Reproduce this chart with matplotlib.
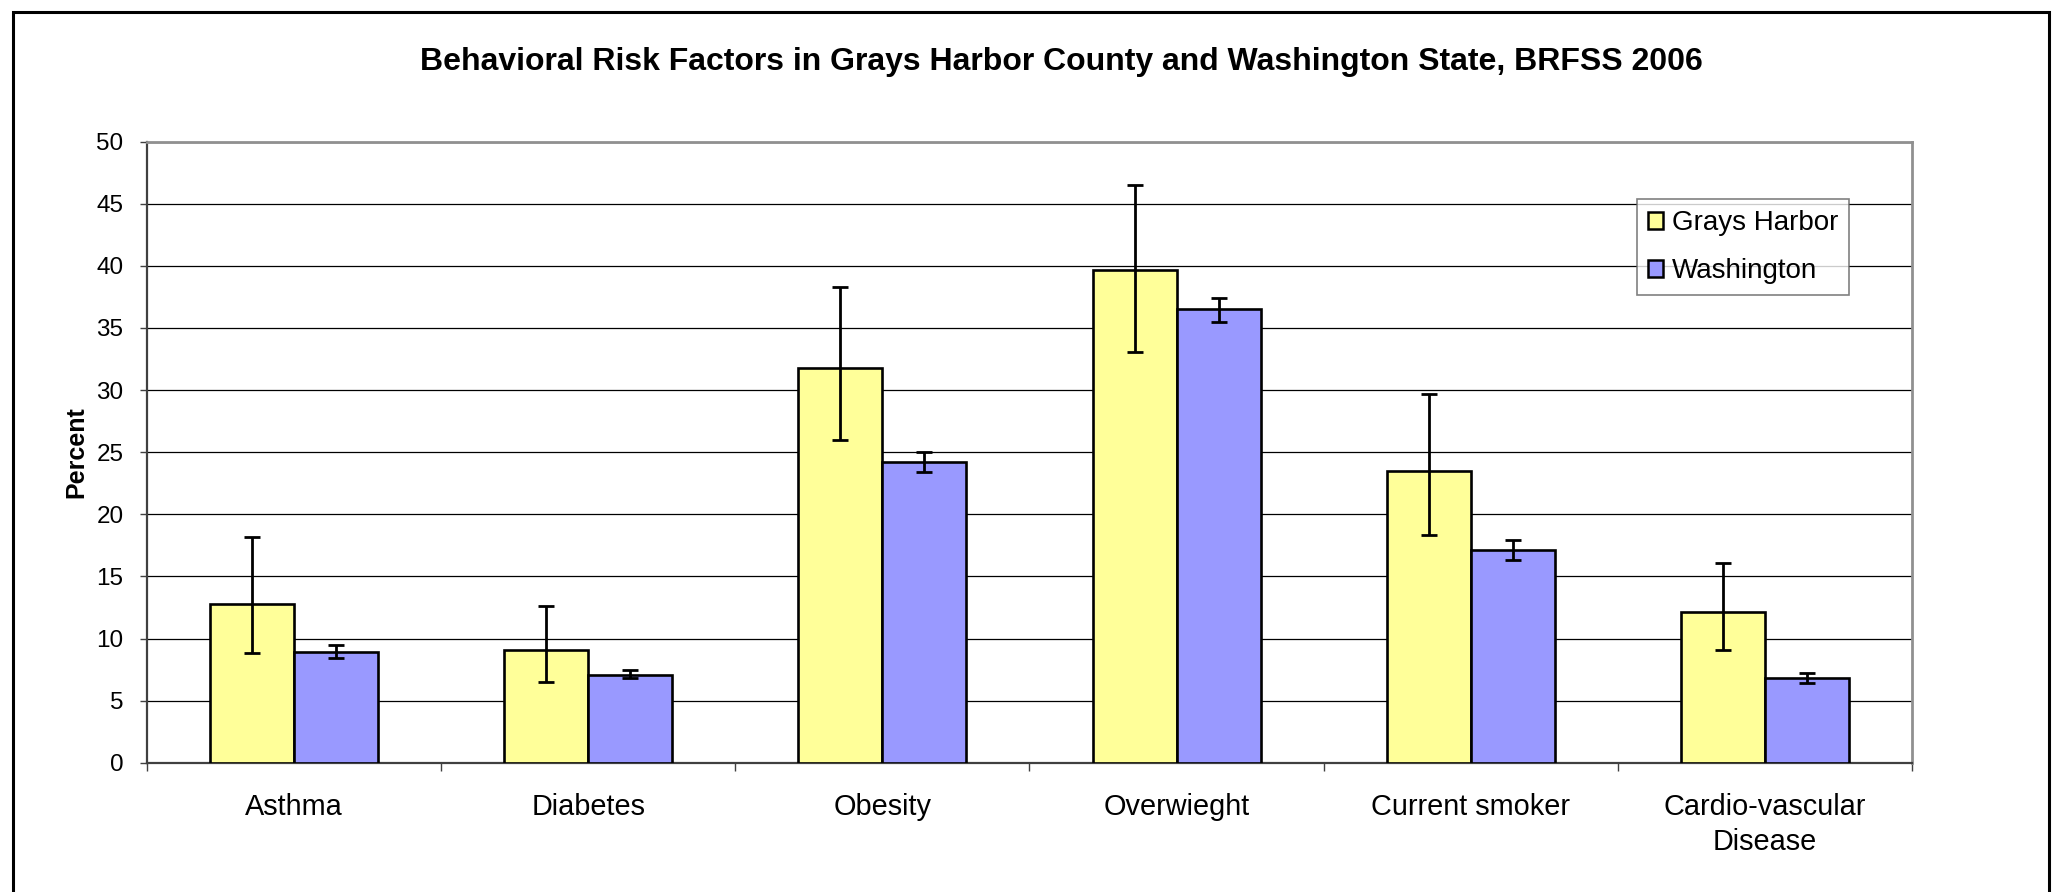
import matplotlib
matplotlib.use("Agg")
import matplotlib.pyplot as plt
from matplotlib.patches import Rectangle, Patch
import numpy as np

categories = ["Asthma", "Diabetes", "Obesity", "Overwieght", "Current smoker", "Cardio-vascular\nDisease"]
series_names = ["Grays Harbor", "Washington"]
gh_values = [12.8, 9.1, 31.8, 39.7, 23.5, 12.1]
gh_lower = [8.8, 6.5, 26.0, 33.1, 18.3, 9.05]
gh_upper = [18.2, 12.6, 38.3, 46.5, 29.7, 16.1]
wa_values = [8.9, 7.1, 24.2, 36.5, 17.1, 6.8]
wa_lower = [8.4, 6.8, 23.4, 35.5, 16.3, 6.4]
wa_upper = [9.5, 7.5, 25.0, 37.4, 17.9, 7.2]
y_ticks = [0, 5, 10, 15, 20, 25, 30, 35, 40, 45, 50]

plt.rcParams['font.family'] = ['Liberation Sans', 'DejaVu Sans']

W, H = 2056, 892
fig = plt.figure(figsize=(W / 100, H / 100), dpi=100)
ax = fig.add_axes([147 / W, 1 - 762.7 / H, (1912 - 147) / W, (762.7 - 141.7) / H])

n = len(categories)
x = np.arange(n)
bw = 1 / 3.5
colors = ["#FFFF99", "#9999FF"]

for vals, lo, hi, off, col, name in [
    (gh_values, gh_lower, gh_upper, -bw / 2, colors[0], series_names[0]),
    (wa_values, wa_lower, wa_upper, bw / 2, colors[1], series_names[1]),
]:
    vals = np.array(vals); lo = np.array(lo); hi = np.array(hi)
    ax.bar(x + off, vals, width=bw, color=col, edgecolor="black", linewidth=1.9, zorder=3, label=name)
    ax.errorbar(x + off, vals, yerr=[vals - lo, hi - vals], fmt="none", ecolor="black",
                elinewidth=2.0, capsize=5.5, capthick=2.0, zorder=4)

ax.set_xlim(-0.5, n - 0.5)
ax.set_ylim(0, 50)
ax.set_yticks(y_ticks)
ax.set_yticklabels([str(v) for v in y_ticks], fontsize=17.5)
ax.tick_params(axis="y", direction="out", length=5, width=1, color="#404040", pad=12)
ax.yaxis.grid(True, color="black", linewidth=0.9, zorder=0)
ax.set_axisbelow(True)

ax.set_xticks(np.arange(n + 1) - 0.5)
ax.set_xticklabels([])
ax.set_xticks(x, minor=True)
ax.set_xticklabels(categories, minor=True, fontsize=20.8, linespacing=1.3)
ax.tick_params(axis="x", which="major", direction="out", length=6, width=1, color="#404040")
ax.tick_params(axis="x", which="minor", length=0, pad=22)

for s in ["left", "bottom"]:
    ax.spines[s].set_color("#404040")
    ax.spines[s].set_linewidth(1.6)
for s in ["top", "right"]:
    ax.spines[s].set_color("#909090")
    ax.spines[s].set_linewidth(2.0)

ax.set_ylabel("Percent", fontsize=18, fontweight="bold", labelpad=6)

fig.text(1061 / W, 1 - 62 / H, "Behavioral Risk Factors in Grays Harbor County and Washington State, BRFSS 2006",
         ha="center", va="center", fontsize=23, fontweight="bold")

handles = [Patch(facecolor=colors[0], edgecolor="black", linewidth=1.8),
           Patch(facecolor=colors[1], edgecolor="black", linewidth=1.8)]
leg = fig.legend(handles, series_names, loc="upper left", bbox_to_anchor=(1637 / W, 1 - 199 / H),
                 fontsize=20, frameon=True, fancybox=False, edgecolor="#606060",
                 handlelength=0.55, handleheight=0.55, handletextpad=0.3, labelspacing=0.8,
                 borderpad=0.4, borderaxespad=0)
leg.get_frame().set_linewidth(1.2)

fig.patches.append(Rectangle((13 / W, -0.1), (2049 - 13) / W, 1.1 - 12 / H, transform=fig.transFigure,
                             fill=False, edgecolor="black", linewidth=2.2))

fig.savefig("out.png", dpi=100)
